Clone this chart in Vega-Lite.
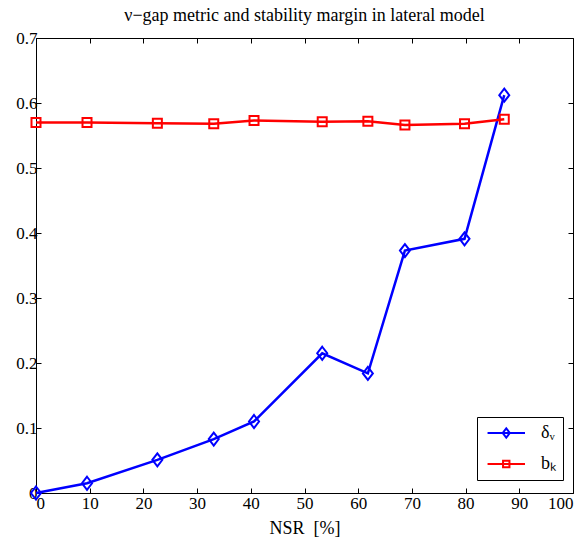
{
  "$schema": "https://vega.github.io/schema/vega-lite/v6.json",
  "width": 537,
  "height": 455,
  "autosize": "none",
  "padding": {"left": 36, "top": 38, "right": 13, "bottom": 50},
  "background": "#ffffff",
  "config": {
    "font": "Liberation Serif",
    "view": {"stroke": "#000000", "strokeWidth": 1},
    "axis": {
      "domain": false,
      "grid": false,
      "tickColor": "#000000",
      "tickWidth": 1,
      "tickSize": -5,
      "labelColor": "#000000",
      "labelFont": "Liberation Serif",
      "labelFontSize": 17,
      "titleFont": "Liberation Serif",
      "titleFontSize": 18,
      "titleFontWeight": "normal",
      "titleColor": "#000000"
    },
    "legend": {
      "labelFont": "Liberation Serif",
      "labelFontSize": 18,
      "labelColor": "#000000"
    }
  },
  "title": {
    "text": "ν−gap metric and stability margin in lateral model",
    "fontSize": 18,
    "fontWeight": "normal",
    "font": "Liberation Serif",
    "color": "#000000",
    "anchor": "middle",
    "offset": 4
  },
  "datasets": {
    "d": [
      {"series": "δᵥ", "nsr": 0, "value": 0.0},
      {"series": "δᵥ", "nsr": 9.5, "value": 0.015},
      {"series": "δᵥ", "nsr": 22.6, "value": 0.051},
      {"series": "δᵥ", "nsr": 33.1, "value": 0.083},
      {"series": "δᵥ", "nsr": 40.6, "value": 0.110},
      {"series": "δᵥ", "nsr": 53.3, "value": 0.215},
      {"series": "δᵥ", "nsr": 61.8, "value": 0.184},
      {"series": "δᵥ", "nsr": 68.7, "value": 0.373},
      {"series": "δᵥ", "nsr": 79.8, "value": 0.391},
      {"series": "δᵥ", "nsr": 87.2, "value": 0.612},
      {"series": "bₖ", "nsr": 0, "value": 0.570},
      {"series": "bₖ", "nsr": 9.5, "value": 0.570},
      {"series": "bₖ", "nsr": 22.6, "value": 0.569},
      {"series": "bₖ", "nsr": 33.1, "value": 0.568},
      {"series": "bₖ", "nsr": 40.6, "value": 0.573},
      {"series": "bₖ", "nsr": 53.3, "value": 0.571},
      {"series": "bₖ", "nsr": 61.8, "value": 0.572},
      {"series": "bₖ", "nsr": 68.7, "value": 0.566},
      {"series": "bₖ", "nsr": 79.8, "value": 0.568},
      {"series": "bₖ", "nsr": 87.2, "value": 0.575}
    ]
  },
  "data": {"name": "d"},
  "layer": [
    {
      "transform": [{"filter": "datum.series == 'δᵥ'"}],
      "mark": {"type": "line", "color": "#0000ff", "strokeWidth": 2.5},
      "encoding": {
        "x": {"field": "nsr", "type": "quantitative", "scale": {"domain": [0, 100], "nice": false},
          "axis": {"orient": "bottom", "values": [0,10,20,30,40,50,60,70,80,90,100], "title": "NSR\u00a0\u00a0[%]", "labelFont": "Liberation Serif", "titleFont": "Liberation Serif", "labelPadding": 7, "titlePadding": 8}},
        "y": {"field": "value", "type": "quantitative", "scale": {"domain": [0, 0.7], "nice": false},
          "axis": {"orient": "left", "values": [0,0.1,0.2,0.3,0.4,0.5,0.6,0.7], "format": "~g", "title": null, "labelFont": "Liberation Serif", "labelPadding": 4}}
      }
    },
    {
      "transform": [{"filter": "datum.series == 'bₖ'"}],
      "mark": {"type": "line", "color": "#ff0000", "strokeWidth": 2.5},
      "encoding": {
        "x": {"field": "nsr", "type": "quantitative", "scale": {"domain": [0, 100], "nice": false},
          "axis": {"orient": "top", "values": [0,10,20,30,40,50,60,70,80,90,100], "labels": false, "title": null}},
        "y": {"field": "value", "type": "quantitative", "scale": {"domain": [0, 0.7], "nice": false},
          "axis": {"orient": "right", "values": [0,0.1,0.2,0.3,0.4,0.5,0.6,0.7], "labels": false, "title": null}}
      }
    },
    {
      "transform": [{"filter": "datum.series == 'δᵥ'"}],
      "mark": {"type": "point", "shape": "M0,-1.3L1,0L0,1.3L-1,0Z", "size": 100, "filled": false, "color": "#0000ff", "strokeWidth": 2, "opacity": 1},
      "encoding": {
        "x": {"field": "nsr", "type": "quantitative", "axis": null},
        "y": {"field": "value", "type": "quantitative", "axis": null}
      }
    },
    {
      "transform": [{"filter": "datum.series == 'bₖ'"}],
      "mark": {"type": "point", "shape": "square", "size": 81, "filled": false, "color": "#ff0000", "strokeWidth": 2, "opacity": 1},
      "encoding": {
        "x": {"field": "nsr", "type": "quantitative", "axis": null},
        "y": {"field": "value", "type": "quantitative", "axis": null}
      }
    },
    {
      "transform": [{"filter": "false"}],
      "mark": {"type": "point", "size": 196, "filled": false, "strokeWidth": 2, "opacity": 1},
      "encoding": {
        "x": {"field": "nsr", "type": "quantitative", "axis": null},
        "y": {"field": "value", "type": "quantitative", "axis": null},
        "color": {"field": "series", "type": "nominal",
          "scale": {"domain": ["δᵥ", "bₖ"], "range": ["#0000ff", "#ff0000"]},
          "legend": {"orient": "none", "legendX": 441, "legendY": 379, "title": null, "strokeColor": "#000000", "fillColor": "#ffffff", "padding": 7, "rowPadding": 13, "labelOffset": 39, "symbolStrokeWidth": 2, "cornerRadius": 0}},
        "shape": {"field": "series", "type": "nominal",
          "scale": {"domain": ["δᵥ", "bₖ"], "range": ["M-1.09,0H6.4M2.65,-0.93L3.36,0L2.65,0.93L1.94,0Z", "M-1.09,0H6.4M2.01,-0.64H3.29V0.64H2.01Z"]},
          "legend": {"orient": "none", "legendX": 441, "legendY": 379, "title": null}}
      }
    }
  ],
  "resolve": {"axis": {"x": "independent", "y": "independent"}}
}
